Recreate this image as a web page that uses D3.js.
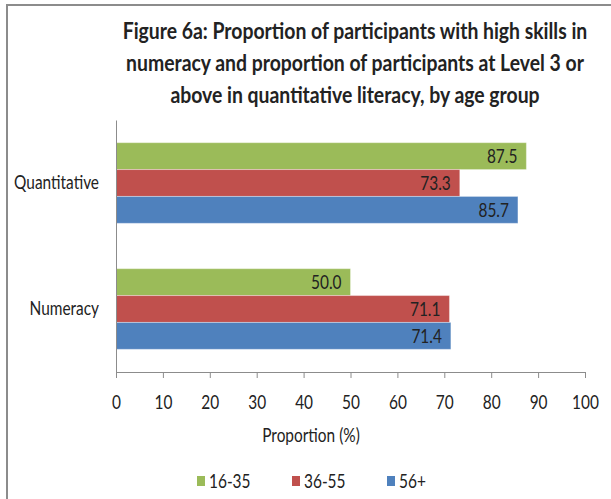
<!DOCTYPE html>
<html>
<head>
<meta charset="utf-8">
<script src="https://cdn.jsdelivr.net/npm/d3@7"></script>
<style>
  body { margin: 0; background: #fff; }
  text { font-family: Lato, "Open Sans", sans-serif; fill: #222; }
</style>
</head>
<body>
<div id="vis"></div>
<script>
// chart data
var categories = ['Quantitative', 'Numeracy'];
var groups = ['16-35', '36-55', '56+'];
var values16to35 = [87.5, 50.0];
var values36to55 = [73.3, 71.1];
var values56plus = [85.7, 71.4];
var xTicks = [0, 10, 20, 30, 40, 50, 60, 70, 80, 90, 100];
var titleLines = [
  'Figure 6a: Proportion of participants with high skills in',
  'numeracy and proportion of participants at Level 3 or',
  'above in quantitative literacy, by age group'
];
var colors = ['#9BBB59', '#C0504D', '#4F81BD'];

var width = 611, height = 499;
var plot = { left: 116, right: 585, top: 120, bottom: 372 };
var labelSize = '19px';

var svg = d3.select('#vis').append('svg')
  .attr('width', width)
  .attr('height', height);

// squeeze text horizontally around its own x, the source uses a narrow face
function condense(sel, k) {
  sel.each(function () {
    var x0 = +(this.getAttribute('x') || 0);
    d3.select(this).attr('transform',
      'translate(' + x0 + ',0) scale(' + k + ',1) translate(' + (-x0) + ',0)');
  });
}

// frame (top and left edges only, like the source image)
svg.append('line').attr('x1', 6).attr('x2', width).attr('y1', 5).attr('y2', 5)
  .attr('stroke', '#8c8c8c').attr('stroke-width', 2);
svg.append('line').attr('x1', 7).attr('x2', 7).attr('y1', 5).attr('y2', height)
  .attr('stroke', '#8c8c8c').attr('stroke-width', 2);

// title
var title = svg.append('g').selectAll('text').data(titleLines).enter()
  .append('text')
  .attr('x', 355)
  .attr('y', function (d, i) { return 39 + i * 32; })
  .attr('text-anchor', 'middle')
  .style('font-size', '22px')
  .style('font-weight', 'bold')
  .text(function (d) { return d; });
var kTitle = 465 / title.node().getComputedTextLength();
condense(title, kTitle);

var series = groups.map(function (g, i) {
  var vals = [values16to35, values36to55, values56plus][i];
  return { name: g, color: colors[i], values: vals };
});

var x = d3.scaleLinear().domain([0, 100]).range([plot.left, plot.right]);
var y0 = d3.scaleBand().domain(categories)
  .range([plot.top, plot.bottom])
  .paddingInner(0.36).paddingOuter(0.18);
var y1 = d3.scaleBand().domain(groups).range([0, y0.bandwidth()]);

// bars
var catG = svg.selectAll('.cat').data(categories).enter()
  .append('g')
  .attr('class', 'cat')
  .attr('transform', function (d) { return 'translate(0,' + y0(d) + ')'; });

catG.selectAll('rect')
  .data(function (c, ci) {
    return series.map(function (s) { return { cat: c, name: s.name, color: s.color, value: s.values[ci] }; });
  })
  .enter().append('rect')
  .attr('x', x(0))
  .attr('y', function (d) { return y1(d.name); })
  .attr('width', function (d) { return x(d.value) - x(0); })
  .attr('height', y1.bandwidth())
  .attr('fill', function (d) { return d.color; })
  .attr('stroke', 'rgba(255,255,255,0.35)')
  .attr('stroke-width', 1);

var valLabels = catG.selectAll('.val')
  .data(function (c, ci) {
    return series.map(function (s) { return { name: s.name, value: s.values[ci] }; });
  })
  .enter().append('text')
  .attr('class', 'val')
  .attr('x', function (d) { return x(d.value) - 9; })
  .attr('y', function (d) { return y1(d.name) + y1.bandwidth() / 2; })
  .attr('dy', '0.36em')
  .attr('text-anchor', 'end')
  .style('font-size', labelSize)
  .text(function (d) { return d.value.toFixed(1); });

// y axis
var yAxis = svg.append('g')
  .attr('transform', 'translate(' + plot.left + ',0)')
  .call(d3.axisLeft(y0).tickSize(0).tickPadding(17));
yAxis.select('.domain').attr('stroke', '#8c8c8c');
var yText = yAxis.selectAll('text').style('font-size', labelSize).attr('fill', '#222');
var kLabel = 85 / yText.node().getComputedTextLength();

// x axis
var xAxis = svg.append('g')
  .attr('transform', 'translate(0,' + plot.bottom + ')')
  .call(d3.axisBottom(x).tickValues(xTicks).tickSizeOuter(6).tickSizeInner(6).tickPadding(18));
xAxis.select('.domain').attr('stroke', '#8c8c8c');
xAxis.selectAll('line').attr('stroke', '#8c8c8c');
var xText = xAxis.selectAll('text').style('font-size', labelSize).attr('fill', '#222');

var xTitle = svg.append('text')
  .attr('x', 311)
  .attr('y', 442)
  .attr('text-anchor', 'middle')
  .style('font-size', labelSize)
  .text('Proportion (%)');

// legend
var legendX = [197, 292, 387];
var legend = svg.selectAll('.legend').data(series).enter()
  .append('g')
  .attr('class', 'legend')
  .attr('transform', function (d, i) { return 'translate(' + legendX[i] + ',476)'; });
legend.append('rect')
  .attr('width', 8).attr('height', 10)
  .attr('fill', function (d) { return d.color; });
var legText = legend.append('text')
  .attr('x', 12).attr('y', 5)
  .attr('dy', '0.36em')
  .style('font-size', labelSize)
  .text(function (d) { return d.name; });

[yText, xText, valLabels, xTitle, legText].forEach(function (s) { condense(s, kLabel); });
</script>
</body>
</html>
